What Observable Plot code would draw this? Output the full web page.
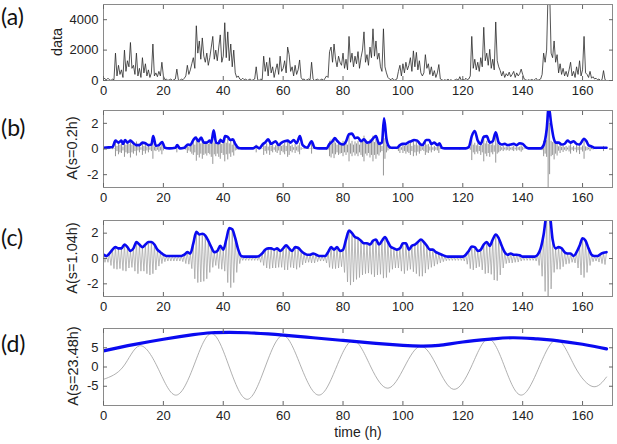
<!DOCTYPE html>
<html><head><meta charset="utf-8">
<script src="https://cdn.jsdelivr.net/npm/d3@7"></script>
<script src="https://cdn.jsdelivr.net/npm/@observablehq/plot@0.6"></script>
<style>
body{margin:0;background:#fff;}
#wrap{position:relative;width:617px;height:444px;overflow:hidden;font-family:"Liberation Sans",Arial,sans-serif;color:#222;}
.lab{position:absolute;left:1px;font-family:Lato,"Open Sans",sans-serif;font-size:23px;color:#111;line-height:26px;}
.ylab{position:absolute;font-size:14.5px;transform:translate(-50%,-50%) rotate(-90deg);white-space:nowrap;line-height:16px;}
.xlab{position:absolute;font-size:14px;transform:translate(-50%,-50%);white-space:nowrap;}
</style></head><body><div id="wrap"></div>
<script>
// ---- shared axis ticks ----
const xTicks = [0, 20, 40, 60, 80, 100, 120, 140, 160];
const yTicksA = [0, 2000, 4000];
const yTicksB = [-2, 0, 2];
const yTicksC = [-2, 0, 2];
const yTicksD = [-5, 0, 5];

// ---- (a) raw data, sampled every 0.5 h from t = 0 to 168 ----
const dataA = [
 200,100,50,150,50,0,100,50,1800,300,1000,400,700,200,2000,600,1300,900,2500,800,
 1000,400,1800,300,800,200,1500,500,1100,300,700,200,500,2400,300,500,250,600,300,1200,
 300,50,100,0,50,100,0,50,100,750,50,0,100,50,150,300,1000,400,700,1100,
 1500,800,3600,1800,2600,1400,2800,1600,1200,1800,1000,1500,2200,2900,1400,2000,1300,2200,3000,1200,
 1600,3800,1500,3200,1300,2400,900,2000,500,200,300,100,50,150,50,100,0,50,100,0,
 50,100,900,50,0,100,50,1600,600,1200,300,1500,500,900,200,700,1100,400,1600,600,
 800,1300,500,2200,1700,600,900,300,1000,400,700,1350,200,50,100,0,50,100,50,1200,
 100,0,50,100,0,50,100,0,150,300,200,1900,2200,1200,2400,1400,900,1600,1200,1000,
 1800,800,1400,700,2900,1200,1800,900,1600,1100,1900,800,1500,2000,3200,1200,1700,1000,2200,1500,
 3400,1600,2600,1400,1800,900,600,3400,900,500,200,100,50,150,0,50,100,600,1000,300,
 1100,500,1200,700,1000,1500,600,1950,900,1850,700,1300,500,300,500,1700,800,1100,400,900,
 300,650,200,500,1050,100,50,0,50,0,100,0,50,0,0,50,100,0,250,0,
 100,0,150,50,100,300,2900,800,1400,700,1200,600,1500,900,3500,1300,1800,1000,2050,800,
 1400,700,3850,1300,900,650,300,600,200,450,300,550,250,400,600,200,500,300,450,750,
 400,100,50,0,50,0,100,0,50,150,0,50,100,400,1800,1200,2000,6000,6000,1800,
 1500,2600,1200,1700,500,1100,400,800,300,600,250,700,1200,300,600,200,900,400,1300,300,
 700,2900,500,400,200,600,150,250,100,150,50,100,0,50,650,50,0
];

// ---- (b) s = 0.2 h : modulus (blue) key points ----
const tB = [0,3,4,5,6,6.5,7.2,8,9,10,11,12,13,14,15,16,16.6,17.5,18.5,19.6,20.5,22,24,24.6,25.5,27,28.2,29,30,30.8,31.7,32.6,33.5,34.5,35.5,36,36.8,37.6,38.5,39,40,40.6,41.5,42.3,43.2,44,45,46,50,51,52,53.3,54,55,56,57.5,58.5,59.5,60.5,61.5,62.5,63.5,64.5,65.6,66.5,68,69.5,70.5,72,74.5,75.5,76.5,77.2,78.2,79.2,80,81,82,83,84,85,86,87,88,89,90.3,91,92,93,93.7,94.5,95.3,96,98,99,100,101,102,102.8,103.7,104.8,105.5,106.5,107.8,108.8,109.5,110.5,111.5,112.2,113,114,121,122,123,124,125,126,127,128,129,130,131,132,133,134,135,136,137,138,139,140,141,142,146,147,148,148.7,149.5,150.3,151,152,153,154,155,156,157,158,159,160.5,161.3,162,163,164,168];
const vB = [0.1,0.15,0.65,0.5,0.65,0.4,0.7,0.5,0.65,0.45,0.3,0.3,0.5,0.45,0.3,0.35,1.0,0.25,0.3,0.55,0.1,0.05,0.1,0.3,0.05,0.1,0.35,0.3,0.7,0.9,0.6,0.9,0.5,0.5,0.65,0.5,1.45,0.5,0.45,0.7,0.55,1.0,0.95,0.7,0.75,0.4,0.1,0.05,0.05,0.2,0.05,0.4,0.5,0.75,0.4,0.6,0.3,0.5,0.6,0.65,0.5,0.7,0.45,1.0,0.3,0.1,0.6,0.1,0.05,0.05,0.4,0.6,0.85,0.6,0.4,0.35,0.6,1.15,1.2,0.85,0.9,0.6,0.75,0.5,0.55,0.9,1.0,0.4,0.5,2.4,0.8,0.2,0.1,0.1,0.3,0.4,0.4,0.55,0.6,0.7,0.65,0.45,0.3,0.7,0.7,0.4,0.5,0.3,0.45,0.1,0.05,0.05,0.15,1.0,1.4,0.65,0.4,0.95,1.0,0.5,0.6,1.3,0.5,0.35,0.4,0.3,0.35,0.4,0.3,0.45,0.4,0.15,0.05,0.05,0.3,1.5,3.3,2.0,0.9,0.5,0.5,0.35,0.4,0.65,0.5,0.6,0.4,0.35,0.8,0.6,0.3,0.2,0.1,0.1];
// ---- (b) real part (grey) extent, every 0.5 h ----
const gB = [
 0.05,0.05,0.03,0.05,0.03,0.02,0.05,0.03,0.6,0.2,0.45,0.3,0.35,0.15,0.65,0.3,0.4,0.35,0.7,0.3,
 0.4,0.2,0.55,0.15,0.3,0.1,0.5,0.2,0.4,0.15,0.3,0.1,0.2,0.8,0.15,0.2,0.1,0.25,0.15,0.45,
 0.15,0.03,0.05,0.02,0.02,0.05,0.02,0.02,0.05,0.3,0.02,0.02,0.05,0.02,0.05,0.1,0.35,0.15,0.25,0.4,
 0.5,0.3,0.95,0.5,0.7,0.4,0.8,0.5,0.4,0.55,0.35,0.45,0.65,1.2,0.45,0.6,0.4,0.65,0.8,0.35,
 0.5,1.0,0.45,0.85,0.4,0.65,0.3,0.55,0.15,0.1,0.1,0.05,0.02,0.05,0.02,0.05,0.02,0.02,0.02,0.02,
 0.02,0.05,0.3,0.02,0.02,0.05,0.02,0.5,0.2,0.4,0.15,0.5,0.2,0.3,0.1,0.25,0.35,0.15,0.5,0.2,
 0.3,0.45,0.2,0.65,0.5,0.2,0.3,0.1,0.35,0.15,0.25,0.45,0.1,0.02,0.05,0.02,0.02,0.05,0.02,0.4,
 0.05,0.02,0.02,0.05,0.02,0.02,0.05,0.02,0.05,0.1,0.1,0.6,0.7,0.4,0.75,0.45,0.3,0.5,0.4,0.35,
 0.6,0.3,0.5,0.3,1.0,0.4,0.6,0.3,0.55,0.4,0.6,0.3,0.5,0.65,1.0,0.4,0.55,0.35,0.7,0.5,
 1.0,0.5,0.8,0.45,0.55,0.3,0.2,2.1,0.8,0.3,0.15,0.05,0.02,0.05,0.02,0.02,0.05,0.2,0.35,0.1,
 0.35,0.2,0.4,0.25,0.35,0.5,0.2,0.6,0.3,0.55,0.25,0.4,0.2,0.1,0.2,0.5,0.3,0.35,0.15,0.3,
 0.1,0.2,0.1,0.15,0.35,0.05,0.02,0.02,0.02,0.02,0.03,0.02,0.02,0.02,0.02,0.02,0.03,0.02,0.08,0.02,
 0.03,0.02,0.05,0.02,0.03,0.1,0.9,0.3,0.45,0.25,0.4,0.2,0.5,0.3,1.0,0.4,0.6,0.35,0.65,0.3,
 0.45,0.25,1.1,0.4,0.3,0.2,0.1,0.2,0.08,0.15,0.1,0.18,0.08,0.13,0.2,0.07,0.17,0.1,0.15,0.25,
 0.13,0.03,0.02,0.02,0.02,0.02,0.03,0.02,0.02,0.05,0.02,0.02,0.03,0.13,0.6,0.4,0.65,3.2,2.0,0.6,
 0.5,0.85,0.4,0.55,0.17,0.35,0.13,0.27,0.1,0.2,0.08,0.23,0.4,0.1,0.2,0.07,0.3,0.13,0.43,0.1,
 0.23,0.8,0.17,0.13,0.07,0.2,0.05,0.08,0.03,0.05,0.02,0.03,0.02,0.02,0.2,0.02,0.02
];

// ---- (c) s = 1.04 h : modulus (blue), every 1 h ----
const vC = [
 0.3,0.2,0.4,0.7,0.9,0.8,0.8,1.1,0.9,0.6,
 0.8,1.3,1.1,0.9,1.1,1.3,1.3,1.1,0.7,0.5,
 0.3,0.2,0.2,0.2,0.2,0.2,0.2,0.3,0.5,0.4,
 1.2,2.1,1.9,1.95,1.8,1.4,0.9,0.5,0.6,1.0,
 0.7,1.5,2.4,2.3,1.6,0.7,0.2,0.15,0.15,0.15,
 0.15,0.15,0.2,0.4,0.7,0.8,0.8,0.7,0.8,0.6,
 0.8,1.05,0.8,0.6,0.9,0.85,0.6,0.4,0.3,0.3,
 0.4,0.3,0.2,0.2,0.2,0.5,0.9,0.7,0.9,0.6,
 0.7,1.5,2.2,2.0,1.7,1.6,1.4,1.2,1.2,1.1,
 1.4,1.5,1.1,1.4,1.7,1.3,0.9,0.8,0.7,0.8,
 1.2,1.2,0.7,1.0,1.1,1.3,1.5,1.3,1.0,0.7,
 0.7,0.5,0.4,0.3,0.2,0.15,0.15,0.15,0.15,0.15,
 0.15,0.3,0.6,0.95,0.9,0.6,0.7,1.1,1.3,1.0,
 1.5,1.9,1.6,1.0,0.5,0.3,0.4,0.3,0.3,0.25,
 0.15,0.15,0.15,0.15,0.15,0.3,0.8,1.9,3.4,3.4,
 1.5,0.8,0.9,0.8,0.5,0.4,0.4,0.2,0.5,1.0,
 1.6,1.4,0.8,0.3,0.2,0.2,0.35,0.45,0.5
];
// ---- (c) real part (grey), every 0.5 h ----
const gC = [
 0.3,-0.3,0.2,-0.3,0.4,-0.55,0.7,-0.8,0.9,-0.85,0.8,-0.8,0.8,-0.95,1.1,-1.0,0.9,-0.75,0.6,-0.7,
 0.8,-1.0,1.3,-1.2,1.1,-1.0,0.9,-1.0,1.1,-1.2,1.3,-1.3,1.3,-1.2,1.1,-0.9,0.7,-0.6,0.5,-0.4,
 0.3,-0.25,0.2,-0.2,0.2,-0.2,0.2,-0.2,0.2,-0.2,0.2,-0.2,0.2,-0.25,0.3,-0.4,0.5,-0.45,0.4,-0.8,
 1.2,-1.6,2.1,-1.9,1.9,-1.85,1.95,-1.8,1.8,-1.6,1.4,-1.1,0.9,-0.7,0.5,-0.55,0.6,-0.8,1.0,-0.85,
 0.7,-1.0,1.5,-1.9,2.4,-2.3,2.3,-1.9,1.6,-1.1,0.7,-0.4,0.2,-0.15,0.15,-0.15,0.15,-0.15,0.15,-0.15,
 0.15,-0.15,0.15,-0.15,0.2,-0.3,0.4,-0.55,0.7,-0.75,0.8,-0.8,0.8,-0.75,0.7,-0.75,0.8,-0.7,0.6,-0.7,
 0.8,-0.9,1.05,-0.9,0.8,-0.7,0.6,-0.75,0.9,-0.85,0.85,-0.7,0.6,-0.5,0.4,-0.35,0.3,-0.3,0.3,-0.35,
 0.4,-0.35,0.3,-0.25,0.2,-0.2,0.2,-0.2,0.2,-0.35,0.5,-0.7,0.9,-0.8,0.7,-0.8,0.9,-0.75,0.6,-0.65,
 0.7,-1.1,1.5,-1.85,2.2,-2.1,2.0,-1.85,1.7,-1.65,1.6,-1.5,1.4,-1.3,1.2,-1.2,1.2,-1.15,1.1,-1.25,
 1.4,-1.45,1.5,-1.3,1.1,-1.25,1.4,-1.55,1.7,-1.5,1.3,-1.1,0.9,-0.85,0.8,-0.75,0.7,-0.75,0.8,-1.0,
 1.2,-1.2,1.2,-0.95,0.7,-0.85,1.0,-1.05,1.1,-1.2,1.3,-1.4,1.5,-1.4,1.3,-1.15,1.0,-0.85,0.7,-0.7,
 0.7,-0.6,0.5,-0.45,0.4,-0.35,0.3,-0.25,0.2,-0.18,0.15,-0.15,0.15,-0.15,0.15,-0.15,0.15,-0.15,0.15,-0.15,
 0.15,-0.2,0.3,-0.45,0.6,-0.8,0.95,-0.9,0.9,-0.75,0.6,-0.65,0.7,-0.9,1.1,-1.2,1.3,-1.15,1.0,-1.25,
 1.5,-1.7,1.9,-1.75,1.6,-1.3,1.0,-0.75,0.5,-0.4,0.3,-0.35,0.4,-0.35,0.3,-0.3,0.3,-0.28,0.25,-0.2,
 0.15,-0.15,0.15,-0.15,0.15,-0.15,0.15,-0.15,0.15,-0.2,0.3,-0.55,0.8,-1.4,1.9,-2.6,3.4,-3.4,3.4,-2.4,
 1.5,-1.1,0.8,-0.85,0.9,-0.85,0.8,-0.65,0.5,-0.45,0.4,-0.4,0.4,-0.3,0.2,-0.35,0.5,-0.75,1.0,-1.3,
 1.6,-1.5,1.4,-1.1,0.8,-0.55,0.3,-0.25,0.2,-0.2,0.2,-0.28,0.35,-0.4,0.45,-0.48,0.5
];

// ---- (d) s = 23.48 h ----
const tDb = [0,10,20,30,36,42,48,55,60,70,80,90,100,106,112,120,130,137,145,150,160,168];
const vDb = [4.2,5.8,7.2,8.4,8.9,9.0,8.9,8.6,8.3,7.6,6.9,6.2,5.6,5.4,5.6,6.5,7.3,7.6,7.3,7.0,5.9,4.7];
const tDg = [0,6.5,12,18,24,30,36,42,48,54,60,66,72,77.8,83.5,89.3,95,100.5,106,111.5,117,122.8,128.5,134,139.5,145.5,151.5,157.5,163.5,168];
const vDg = [-3.2,0,5.5,0,-7.3,0,8.7,0,-8.4,0,8.2,0,-7.3,0,6.9,0,-5.5,0,5.4,0,-5.8,0,7.3,0,-7.3,0,7.1,0,-5.1,-2.6];

// ---- tables ----
const tHalf = dataA.map((_, i) => i * 0.5);
const rowsA = dataA.map((v, i) => ({t: tHalf[i], v}));
const rowsBb = tB.map((t, i) => ({t, v: vB[i]}));
const rowsBg = gB.map((g, i) => ({t: tHalf[i], lo: -g, hi: g}));
const rowsCb = vC.map((v, i) => ({t: i, v}));
const rowsCg = gC.map((v, i) => ({t: tHalf[i], v}));
const rowsDb = tDb.map((t, i) => ({t, v: vDb[i]}));
const rowsDg = tDg.map((t, i) => ({t, v: vDg[i]}));

const wrap = document.getElementById("wrap");
const BLUE = "#0a0af0";

function panel({top, height, mTop, mBottom, yDomain, yTicks, marks}) {
  const p = Plot.plot({
    width: 617, height,
    marginLeft: 103, marginRight: 5, marginTop: mTop, marginBottom: mBottom,
    style: {fontFamily: '"Liberation Sans", Arial, sans-serif', fontSize: "13px", color: "#222", background: "transparent", overflow: "visible"},
    x: {domain: [0, 170]},
    y: {domain: yDomain},
    marks: [
      ...marks,
      Plot.frame({stroke: "#8a8a8a"}),
      Plot.axisX({anchor: "bottom", ticks: xTicks, tickSize: 0, tickPadding: 5, tickFormat: d => String(d), label: null}),
      Plot.axisX({anchor: "bottom", ticks: xTicks, tickSize: -4, tickFormat: () => "", label: null, stroke: "#666"}),
      Plot.axisX({anchor: "top", ticks: xTicks, tickSize: -4, tickFormat: () => "", label: null, stroke: "#666"}),
      Plot.axisY({anchor: "left", ticks: yTicks, tickSize: 0, tickPadding: 5, tickFormat: d => String(d), label: null}),
      Plot.axisY({anchor: "left", ticks: yTicks, tickSize: -4, tickFormat: () => "", label: null, stroke: "#666"}),
      Plot.axisY({anchor: "right", ticks: yTicks, tickSize: -4, tickFormat: () => "", label: null, stroke: "#666"})
    ]
  });
  p.style.position = "absolute";
  p.style.left = "0px";
  p.style.top = top + "px";
  wrap.appendChild(p);
}

// (a)
panel({top: 0, height: 100, mTop: 4, mBottom: 20, yDomain: [0, 5000], yTicks: yTicksA, marks: [
  Plot.line(rowsA, {x: "t", y: "v", stroke: "#2a2a2a", strokeWidth: 0.8, clip: true})
]});
// (b)
panel({top: 106, height: 104, mTop: 4, mBottom: 23, yDomain: [-3, 3], yTicks: yTicksB, marks: [
  Plot.ruleX(rowsBg, {x: "t", y1: "lo", y2: "hi", stroke: "#8a8a8a", strokeWidth: 0.9, clip: true}),
  Plot.line(rowsBb, {x: "t", y: "v", stroke: BLUE, strokeWidth: 2.6, curve: "monotone-x", clip: true})
]});
// (c)
panel({top: 216, height: 103, mTop: 4, mBottom: 23, yDomain: [-3, 3], yTicks: yTicksC, marks: [
  Plot.line(rowsCg, {x: "t", y: "v", stroke: "#9c9c9c", strokeWidth: 0.7, clip: true}),
  Plot.line(rowsCb, {x: "t", y: "v", stroke: BLUE, strokeWidth: 2.6, curve: "monotone-x", clip: true})
]});
// (d)
panel({top: 324, height: 104, mTop: 4, mBottom: 23, yDomain: [-10, 10], yTicks: yTicksD, marks: [
  Plot.line(rowsDg, {x: "t", y: "v", stroke: "#9c9c9c", strokeWidth: 0.8, curve: "natural", clip: true}),
  Plot.line(rowsDb, {x: "t", y: "v", stroke: BLUE, strokeWidth: 3.2, curve: "natural", clip: true})
]});

// labels
const panelLabels = [["(a)", 3], ["(b)", 114], ["(c)", 224], ["(d)", 330]];
for (const [txt, top] of panelLabels) {
  const d = document.createElement("div");
  d.className = "lab"; d.textContent = txt; d.style.top = top + "px";
  wrap.appendChild(d);
}
const yLabels = [["data", 57, 42], ["A(s=0.2h)", 72, 148], ["A(s=1.04h)", 72, 258], ["A(s=23.48h)", 73, 366]];
for (const [txt, x, y] of yLabels) {
  const d = document.createElement("div");
  d.className = "ylab"; d.textContent = txt; d.style.left = x + "px"; d.style.top = y + "px";
  wrap.appendChild(d);
}
const xl = document.createElement("div");
xl.className = "xlab"; xl.textContent = "time (h)"; xl.style.left = "358px"; xl.style.top = "432px";
wrap.appendChild(xl);
</script></body></html>
